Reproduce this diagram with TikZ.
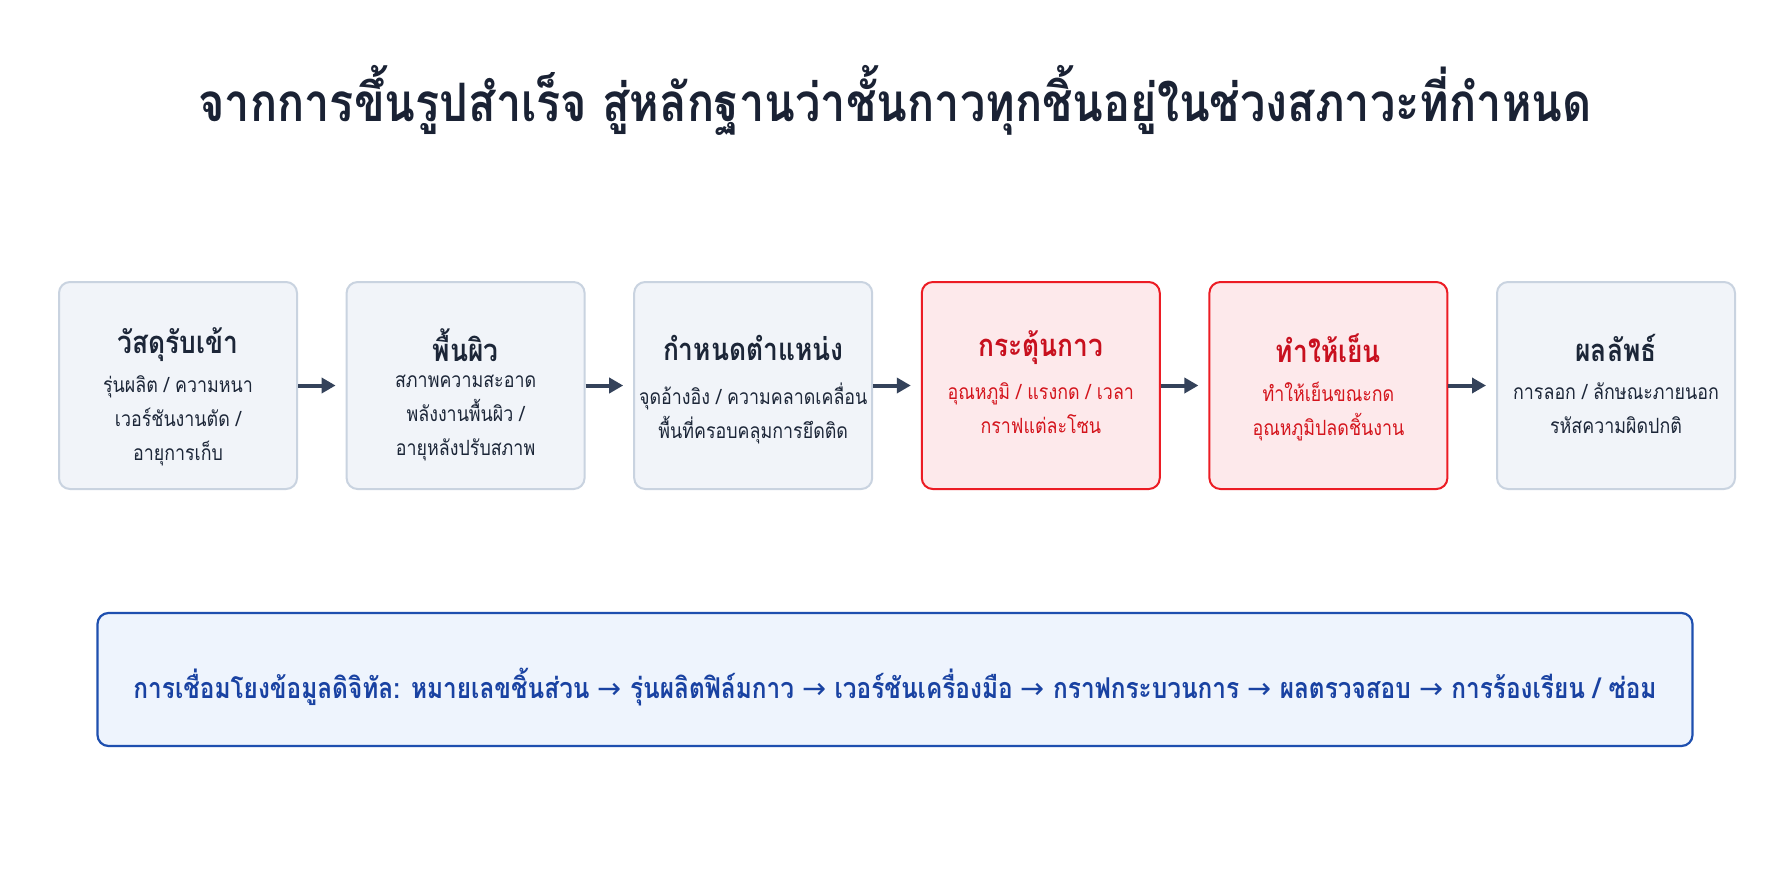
\documentclass[tikz,border=0pt]{standalone}
\usepackage{fontspec}
\usepackage{xcolor}
\usetikzlibrary{shapes,arrows.meta}
\setmainfont[Script=Thai, FakeStretch=0.85]{Loma}
\newfontfamily\arrowfont{DejaVu Sans}

\definecolor{titleink}{HTML}{1A2234}
\definecolor{boxink}{HTML}{1C2638}
\definecolor{greyline}{HTML}{C9D3E0}
\definecolor{greyfill}{HTML}{F1F4F9}
\definecolor{hotline}{HTML}{EC1C24}
\definecolor{hotfill}{HTML}{FDE9EB}
\definecolor{hotink}{HTML}{D4141C}
\definecolor{hotdark}{HTML}{C8101E}
\definecolor{flowgrey}{HTML}{34425A}
\definecolor{linkline}{HTML}{1E4FAF}
\definecolor{linkfill}{HTML}{EEF4FD}
\definecolor{linkink}{HTML}{1942A2}

\tikzstyle{stepbox}=[draw=greyline, fill=greyfill, line width=2pt, rounded corners=11pt,
  minimum width=238pt, minimum height=207pt]
\tikzstyle{hotbox}=[stepbox, draw=hotline, fill=hotfill]
\tikzstyle{boxtitle}=[font=\bfseries\fontsize{31}{34}\selectfont, text=boxink]
\tikzstyle{boxbody}=[font=\fontsize{21}{34}\selectfont, align=center, text=boxink, anchor=north]
\tikzstyle{flow}=[-{Triangle[length=14pt,width=15pt]}, line width=4pt, draw=flowgrey, shorten >=10pt]
\tikzstyle{linkbox}=[draw=linkline, fill=linkfill, line width=2.2pt, rounded corners=11pt,
  minimum width=1595pt, minimum height=133pt]

\begin{document}
\begin{tikzpicture}[x=1pt, y=-1pt]

\useasboundingbox[fill=white] (0,0) rectangle (1790,879);

%% heading
\node[font=\bfseries\fontsize{53}{58}\selectfont, text=titleink] (heading) at (895,100)
  {จากการขึ้นรูปสำเร็จ สู่หลักฐานว่าชั้นกาวทุกชิ้นอยู่ในช่วงสภาวะที่กำหนด};

%% process steps
\node[stepbox] (intake) at (178,385.5) {};
\node[stepbox] (surface) at (465.6,385.5) {};
\node[stepbox] (placing) at (753.2,385.5) {};
\node[hotbox] (activate) at (1040.8,385.5) {};
\node[hotbox] (cooling) at (1328.4,385.5) {};
\node[stepbox] (result) at (1616,385.5) {};

\node[boxtitle] (intake-t) at (178,345) {วัสดุรับเข้า};
\node[boxbody] (intake-b) at (178,372) {รุ่นผลิต / ความหนา\\ เวอร์ชันงานตัด /\\ อายุการเก็บ};

\node[boxtitle] (surface-t) at (465.6,345) {พื้นผิว};
\node[boxbody] (surface-b) at (465.6,372) {สภาพความสะอาด\\ พลังงานพื้นผิว /\\ อายุหลังปรับสภาพ};

\node[boxtitle] (placing-t) at (753.2,348) {กำหนดตำแหน่ง};
\node[boxbody] (placing-b) at (753.2,379) {จุดอ้างอิง / ความคลาดเคลื่อน\\ พื้นที่ครอบคลุมการยึดติด};

\node[boxtitle, text=hotdark] (activate-t) at (1040.8,348) {กระตุ้นกาว};
\node[boxbody, text=hotink] (activate-b) at (1040.8,379) {อุณหภูมิ / แรงกด / เวลา\\ กราฟแต่ละโซน};

\node[boxtitle, text=hotdark] (cooling-t) at (1328.4,348) {ทำให้เย็น};
\node[boxbody, text=hotink] (cooling-b) at (1328.4,379) {ทำให้เย็นขณะกด\\ อุณหภูมิปลดชิ้นงาน};

\node[boxtitle] (result-t) at (1616,348) {ผลลัพธ์};
\node[boxbody] (result-b) at (1616,379) {การลอก / ลักษณะภายนอก\\ รหัสความผิดปกติ};

\draw[flow] (intake) -- (surface);
\draw[flow] (surface) -- (placing);
\draw[flow] (placing) -- (activate);
\draw[flow] (activate) -- (cooling);
\draw[flow] (cooling) -- (result);

%% digital thread
\node[linkbox] (thread) at (895,679.5) {};
\node[font=\bfseries\fontsize{28.7}{32}\selectfont, text=linkink] (thread-t) at (895,687)
  {การเชื่อมโยงข้อมูลดิจิทัล: หมายเลขชิ้นส่วน {\arrowfont\mdseries →} รุ่นผลิตฟิล์มกาว {\arrowfont\mdseries →} เวอร์ชันเครื่องมือ {\arrowfont\mdseries →} กราฟกระบวนการ {\arrowfont\mdseries →} ผลตรวจสอบ {\arrowfont\mdseries →} การร้องเรียน / ซ่อม};

\end{tikzpicture}
\end{document}
